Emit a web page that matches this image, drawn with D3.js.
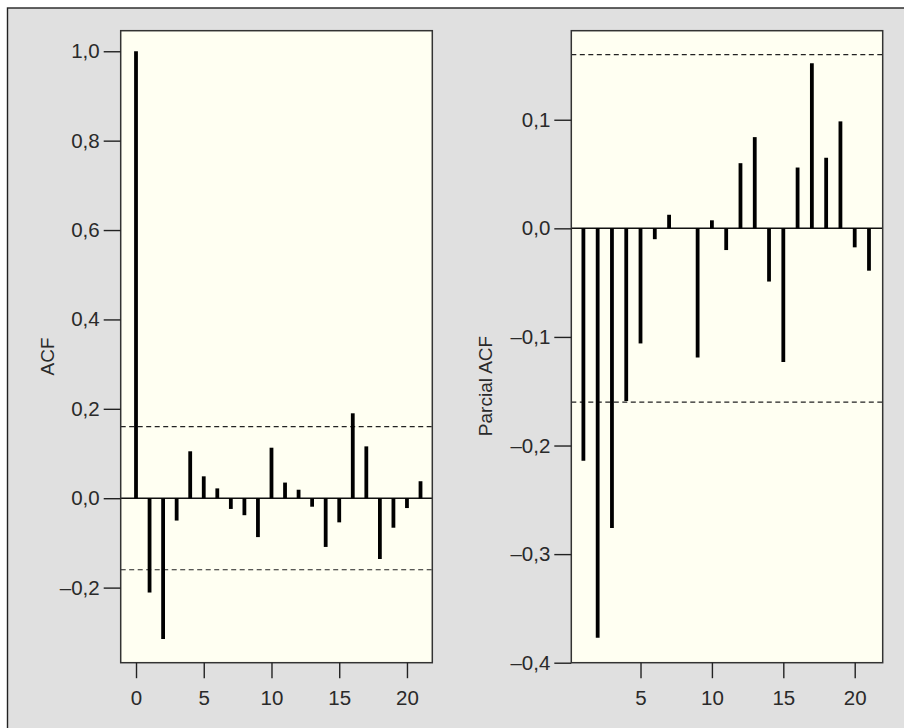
<!DOCTYPE html>
<html>
<head>
<meta charset="utf-8">
<script src="https://cdn.jsdelivr.net/npm/d3@7"></script>
<style>
  html, body { margin: 0; padding: 0; background: #ffffff; }
  svg { display: block; }
  .tick text { font-family: "Liberation Sans", Arial, sans-serif; font-size: 20.5px; fill: #2a2a2a; }
  .lab { font-family: "Liberation Sans", Arial, sans-serif; font-size: 19px; fill: #2a2a2a; }
</style>
</head>
<body>
<svg id="chart" width="904" height="728"></svg>
<script>
// ---- data ----
const acfLags = [0,1,2,3,4,5,6,7,8,9,10,11,12,13,14,15,16,17,18,19,20,21];
const acfValues = [1.0,-0.211,-0.315,-0.050,0.105,0.049,0.022,-0.024,-0.038,-0.087,0.113,0.035,0.019,-0.019,-0.109,-0.054,0.190,0.116,-0.136,-0.066,-0.022,0.038];
const pacfLags = [1,2,3,4,5,6,7,8,9,10,11,12,13,14,15,16,17,18,19,20,21];
const pacfValues = [-0.214,-0.377,-0.276,-0.159,-0.106,-0.010,0.0125,0,-0.119,0.0074,-0.020,0.060,0.084,-0.049,-0.123,0.056,0.152,0.065,0.0985,-0.0175,-0.039];
const confBound = 0.16;
const acfYTicks = [-0.2,0,0.2,0.4,0.6,0.8,1.0];
const acfXTicks = [0,5,10,15,20];
const pacfYTicks = [-0.4,-0.3,-0.2,-0.1,0,0.1];
const pacfXTicks = [5,10,15,20];
const acfLabel = "ACF";
const pacfLabel = "Parcial ACF";

const svg = d3.select("#chart");
// outer gray frame
svg.append("rect").attr("x", 7.5).attr("y", 8).attr("width", 910).attr("height", 740)
  .attr("fill", "#e0e0e0").attr("stroke", "#222").attr("stroke-width", 1.4);

const fmt = v => d3.format(".1f")(v).replace(".", ",").replace("\u2212", "\u2013").replace("-", "\u2013");

function panel(opts) {
  const x = d3.scaleLinear().domain(opts.xDomain).range([opts.left, opts.right]);
  const y = d3.scaleLinear().domain(opts.yDomain).range([opts.bottom, opts.top]);
  const g = svg.append("g");
  g.append("rect").attr("x", opts.left).attr("y", opts.top)
    .attr("width", opts.right - opts.left).attr("height", opts.bottom - opts.top)
    .attr("fill", "#fffff2");

  // dashed confidence bounds
  g.selectAll("line.conf").data([confBound, -confBound]).enter().append("line")
    .attr("class", "conf")
    .attr("x1", opts.left).attr("x2", opts.right)
    .attr("y1", d => y(d)).attr("y2", d => y(d))
    .attr("stroke", "#222").attr("stroke-width", 1.2).attr("stroke-dasharray", "5,3.5");

  // zero line
  g.append("line").attr("x1", opts.left).attr("x2", opts.right)
    .attr("y1", y(0)).attr("y2", y(0)).attr("stroke", "#111").attr("stroke-width", 1.5);

  // bars
  g.selectAll("line.bar").data(opts.lags.map((l, i) => [l, opts.values[i]])).enter().append("line")
    .attr("class", "bar")
    .attr("x1", d => x(d[0])).attr("x2", d => x(d[0]))
    .attr("y1", y(0)).attr("y2", d => y(d[1]))
    .attr("stroke", "#000").attr("stroke-width", 3.8).attr("stroke-linecap", "butt");

  // border
  g.append("rect").attr("x", opts.left).attr("y", opts.top)
    .attr("width", opts.right - opts.left).attr("height", opts.bottom - opts.top)
    .attr("fill", "none").attr("stroke", "#333").attr("stroke-width", 1.5);

  // axes
  const ya = g.append("g").attr("transform", `translate(${opts.left},0)`)
    .call(d3.axisLeft(y).tickValues(opts.yTicks).tickFormat(fmt).tickSize(17).tickPadding(4));
  ya.select(".domain").remove();
  ya.selectAll(".tick line").attr("stroke", "#222").attr("stroke-width", 1.4);

  const xa = g.append("g").attr("transform", `translate(0,${opts.bottom})`)
    .call(d3.axisBottom(x).tickValues(opts.xTicks).tickFormat(d3.format("d")).tickSize(15.5).tickPadding(12));
  xa.select(".domain").remove();
  xa.selectAll(".tick line").attr("stroke", "#222").attr("stroke-width", 1.4);

  g.append("text").attr("class", "lab")
    .attr("transform", `translate(${opts.labelX},${opts.labelY}) rotate(-90)`)
    .attr("text-anchor", "middle").attr("dominant-baseline", "central")
    .text(opts.label);
}

panel({
  lags: acfLags, values: acfValues,
  xDomain: [-1.13, 21.87], yDomain: [-0.368, 1.046],
  left: 120.7, right: 432.3, top: 30.7, bottom: 662.7,
  yTicks: acfYTicks, xTicks: acfXTicks,
  label: acfLabel, labelX: 47.5, labelY: 356.5
});

panel({
  lags: pacfLags, values: pacfValues,
  xDomain: [0.153, 21.96], yDomain: [-0.4, 0.182],
  left: 571.3, right: 882.7, top: 30.7, bottom: 662.7,
  yTicks: pacfYTicks, xTicks: pacfXTicks,
  label: pacfLabel, labelX: 485, labelY: 386
});
</script>
</body>
</html>
